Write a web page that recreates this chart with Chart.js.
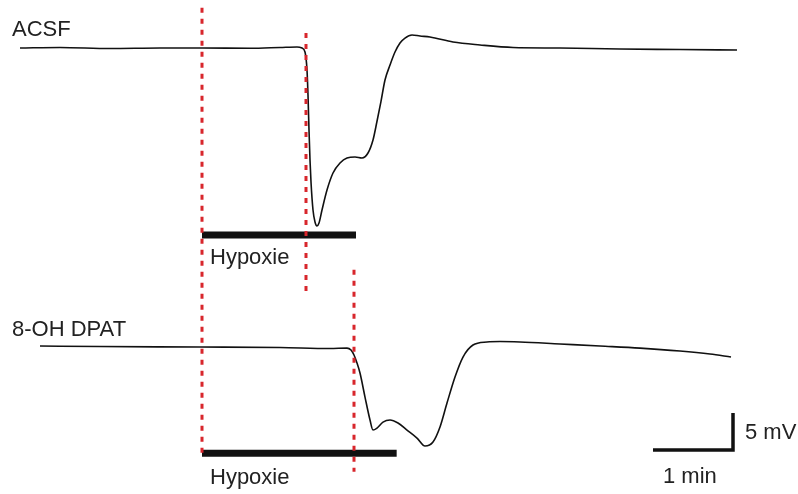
<!DOCTYPE html>
<html>
<head>
<meta charset="utf-8">
<script src="https://cdn.jsdelivr.net/npm/chart.js@4.4.1/dist/chart.umd.min.js"></script>
<style>
    html, body { margin: 0; padding: 0; background: #fff; }
    #wrap { width: 798px; height: 494px; position: relative; }
</style>
</head>
<body>
<div id="wrap"><canvas id="trace-chart"></canvas></div>
<script>
// time in s relative to hypoxia onset, voltage in mV relative to baseline
const acsfTime = [-136.5, -106.5, -69, -31.5, 0, 36, 58.5, 71.25, 75, 77.25, 78.75, 79.5, 80.25, 81, 81.75, 83.25, 84.75, 86.25, 87.75, 90, 93.75, 98.25, 103.5, 108.75, 114.75, 120, 124.5, 128.25, 131.25, 134.25, 137.25, 141, 144.75, 148.5, 152.25, 157.5, 163.5, 171, 188.25, 208.5, 233.25, 268.5, 313.5, 358.5, 401.25];
const acsfMv = [0, 0.07, -0.07, 0, 0, -0.04, 0.07, 0.14, 0, -0.54, -2.97, -6.35, -11.08, -15.14, -18.11, -21.89, -23.51, -24.05, -23.65, -21.89, -19.19, -16.89, -15.54, -14.86, -14.73, -14.86, -14.19, -12.43, -9.9, -7.2, -4.32, -2.3, -0.54, 0.68, 1.35, 1.76, 1.62, 1.49, 0.81, 0.41, 0.07, 0, -0.14, -0.2, -0.27];

const dpatTime = [-121.5, -76.5, -1.5, 58.5, 96, 108.75, 111.75, 114, 116.25, 118.5, 122.25, 126, 128.25, 131.25, 135.75, 141, 147, 153.75, 161.25, 167.25, 173.25, 178.5, 183.75, 189.75, 195.75, 203.25, 213.75, 223.5, 238.5, 268.5, 298.5, 328.5, 358.5, 381, 396.75];
const dpatMv = [0.14, 0.07, 0, -0.07, -0.2, -0.14, -0.41, -1.08, -2.16, -3.51, -6.76, -9.86, -11.22, -10.95, -10.14, -9.86, -10.27, -11.22, -12.3, -13.38, -12.84, -10.81, -7.57, -4.05, -1.35, 0.27, 0.68, 0.74, 0.68, 0.41, 0.14, -0.14, -0.54, -0.95, -1.35];

const traceNames = ['ACSF', '8-OH DPAT'];
const hypoxiaEnd = [115.5, 146];        // s
const depolOnset = [78, 114];           // s, red dashed markers
const scaleTime = 60;                   // 1 min
const scaleMv = 5;                      // 5 mV

// layout (axis units)
const offsets = [60.27, 19.86];
const xMin = -151.5, xMax = 447;
const yMin = 0, yMax = 66.76;

const trace = (ts, vs, off) => ts.map((t, i) => ({ x: t, y: vs[i] + off }));

const red = '#d8262c';
const dashed = (pts) => ({
    data: pts, showLine: true, borderColor: red, borderWidth: 3,
    borderDash: [5, 6], pointRadius: 0
});
const solid = (pts, w) => ({
    data: pts, showLine: true, borderColor: '#111', borderWidth: w,
    pointRadius: 0, borderCapStyle: 'butt'
});

const sbX = 398.25, sbY = 5.94;

const labels = [
    { text: traceNames[0], x: -142.5, y: 62.7 },
    { text: 'Hypoxie', x: 6, y: 31.9 },
    { text: traceNames[1], x: -142.5, y: 22.2 },
    { text: 'Hypoxie', x: 6, y: 2.16 },
    { text: scaleMv + ' mV', x: sbX + 9, y: 8.24 },
    { text: '1 min', x: sbX - scaleTime + 7.5, y: 2.3 },
];

const textPlugin = {
    id: 'texts',
    afterDraw(chart) {
        const { ctx, scales } = chart;
        ctx.save();
        ctx.font = '22px "Liberation Sans", Arial, sans-serif';
        ctx.fillStyle = '#222';
        ctx.textAlign = 'left';
        ctx.textBaseline = 'middle';
        labels.forEach((l) => {
            ctx.fillText(l.text, scales.x.getPixelForValue(l.x), scales.y.getPixelForValue(l.y));
        });
        ctx.restore();
    },
};

const datasets = [
    dashed([{ x: 0, y: 65.7 }, { x: 0, y: 5.5 }]),
    dashed([{ x: depolOnset[0], y: 62.3 }, { x: depolOnset[0], y: 27.2 }]),
    dashed([{ x: depolOnset[1], y: 30.3 }, { x: depolOnset[1], y: 3.0 }]),
    solid([{ x: 0, y: 35.0 }, { x: hypoxiaEnd[0], y: 35.0 }], 7),
    solid([{ x: 0, y: 5.5 }, { x: hypoxiaEnd[1], y: 5.5 }], 7),
    solid([{ x: sbX - scaleTime, y: sbY }, { x: sbX, y: sbY }, { x: sbX, y: sbY + scaleMv }], 3.5),
    {
        data: trace(acsfTime, acsfMv, offsets[0]), showLine: true, borderColor: '#111',
        borderWidth: 1.6, pointRadius: 0, cubicInterpolationMode: 'monotone'
    },
    {
        data: trace(dpatTime, dpatMv, offsets[1]), showLine: true, borderColor: '#111',
        borderWidth: 1.6, pointRadius: 0, cubicInterpolationMode: 'monotone'
    },
];

new Chart(document.getElementById('trace-chart'), {
    type: 'scatter',
    data: { datasets },
    options: {
        responsive: true,
        maintainAspectRatio: false,
        animation: false,
        layout: { padding: 0 },
        plugins: { legend: { display: false }, tooltip: { enabled: false } },
        scales: {
            x: { type: 'linear', min: xMin, max: xMax, display: false },
            y: { type: 'linear', min: yMin, max: yMax, display: false },
        },
    },
    plugins: [textPlugin],
});
</script>
</body>
</html>
